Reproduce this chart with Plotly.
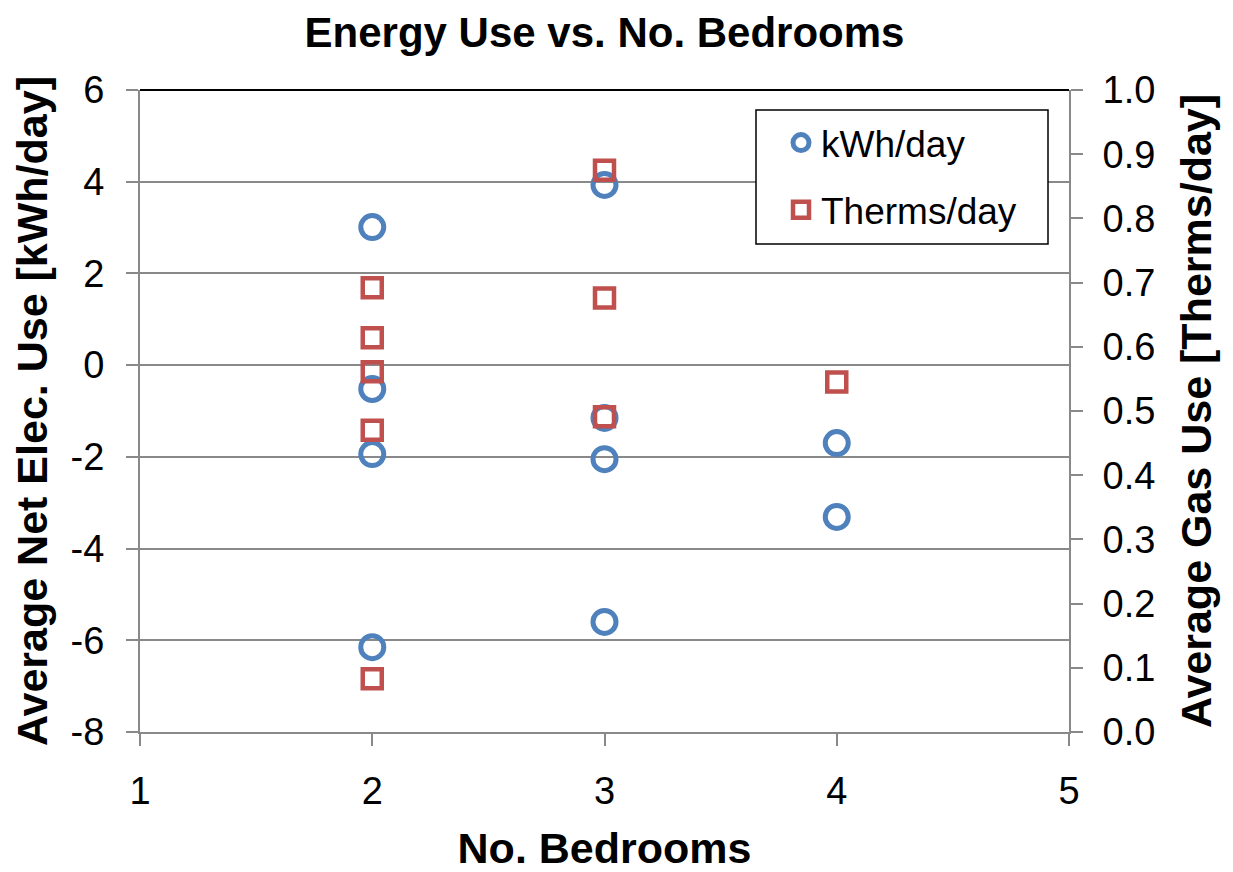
import plotly.graph_objects as go

# Data
kwh_bedrooms = [2, 2, 2, 2, 3, 3, 3, 3, 4, 4]
kwh_values = [3.01, -0.52, -1.94, -6.15, 3.93, -1.15, -2.05, -5.60, -1.70, -3.31]

therm_bedrooms = [2, 2, 2, 2, 2, 3, 3, 3, 4]
therm_values = [0.692, 0.614, 0.561, 0.470, 0.083, 0.875, 0.676, 0.491, 0.545]

x_ticks = [1, 2, 3, 4, 5]
y_left_ticks = [-8, -6, -4, -2, 0, 2, 4, 6]
y_left_labels = ["-8", "-6", "-4", "-2", "0", "2", "4", "6"]
y_right_ticks = [0.0, 0.1, 0.2, 0.3, 0.4, 0.5, 0.6, 0.7, 0.8, 0.9, 1.0]

BLUE = "#4F81BD"
RED = "#C0504D"
GRAY = "#898989"
FONT = "Liberation Sans, Arial, sans-serif"

fig = go.Figure()
fig.add_trace(go.Scatter(
    x=kwh_bedrooms, y=kwh_values, mode="markers", name="kWh/day",
    marker=dict(symbol="circle-open", size=23, color=BLUE, line=dict(width=5, color=BLUE)),
    yaxis="y", legendgroup="a",
))
fig.add_trace(go.Scatter(
    x=therm_bedrooms, y=therm_values, mode="markers", name="Therms/day",
    marker=dict(symbol="square-open", size=19, color=RED, line=dict(width=4.5, color=RED)),
    yaxis="y2", legendgroup="b",
))

OFF = 8  # page body margin
W, H = 1233 - OFF, 872 - OFF
# plot area in screenshot pixel coordinates
L, R, T, B = 140, 1069, 90, 732
pw, ph = R - L, B - T

def px2paper_x(px):
    return (px - L) / pw

def px2paper_y(py):
    return (B - py) / ph

tickfont = dict(size=38, family=FONT, color="black")
titlefont = dict(size=43, family=FONT, color="black")

fig.update_layout(
    width=W, height=H,
    margin=dict(l=L - OFF, r=1233 - R, t=T - OFF, b=872 - B, autoexpand=False),
    paper_bgcolor="white", plot_bgcolor="white",
    font=dict(family=FONT, color="black"),
    title=dict(text="<b>Energy Use vs. No. Bedrooms</b>", x=0.5, xref="paper", xanchor="center",
               y=1 - (32 - OFF) / H, yanchor="middle", font=dict(size=42, family=FONT, color="black")),
    xaxis=dict(range=[1, 5], tickvals=x_ticks, ticks="outside", ticklen=12, tickwidth=1.5, tickcolor=GRAY,
               showline=True, linecolor=GRAY, linewidth=2, showgrid=False, zeroline=False,
               tickfont=tickfont, ticklabelstandoff=12,
               title=dict(text="<b>No. Bedrooms</b>", font=titlefont, standoff=28)),
    yaxis=dict(range=[-8, 6], tickvals=y_left_ticks, ticktext=y_left_labels, ticks="outside", ticklen=12,
               tickwidth=1.5, tickcolor=GRAY,
               showline=True, linecolor=GRAY, linewidth=2, showgrid=True, gridcolor=GRAY, gridwidth=1.5,
               zeroline=False, tickfont=tickfont, ticklabelstandoff=14,
               title=dict(text="<b>Average Net Elec. Use [kWh/day]</b>", font=titlefont, standoff=14)),
    yaxis2=dict(range=[0, 1], tickvals=y_right_ticks, tickformat=".1f", overlaying="y", side="right",
                ticks="outside", ticklen=12, tickwidth=1.5, tickcolor=GRAY,
                showline=True, linecolor=GRAY, linewidth=2, showgrid=False, zeroline=False,
                tickfont=tickfont, ticklabelstandoff=12,
                title=dict(text="<b>Average Gas Use [Therms/day]</b>", font=titlefont, standoff=26)),
    legend=dict(x=px2paper_x(781), y=px2paper_y(112), xanchor="left", yanchor="top",
                bgcolor="rgba(0,0,0,0)", borderwidth=0, font=dict(size=37, family=FONT, color="black"),
                tracegroupgap=16, itemsizing="trace"),
    showlegend=True,
    shapes=[
        dict(type="rect", xref="paper", yref="paper", x0=px2paper_x(756), x1=px2paper_x(1048),
             y0=px2paper_y(244), y1=px2paper_y(110), line=dict(color="black", width=1.5),
             fillcolor="white", layer="above"),
        dict(type="line", xref="paper", yref="paper", x0=0, x1=1, y0=1, y1=1,
             line=dict(color="black", width=2), layer="above"),
    ],
)

fig.write_html("out.html")
